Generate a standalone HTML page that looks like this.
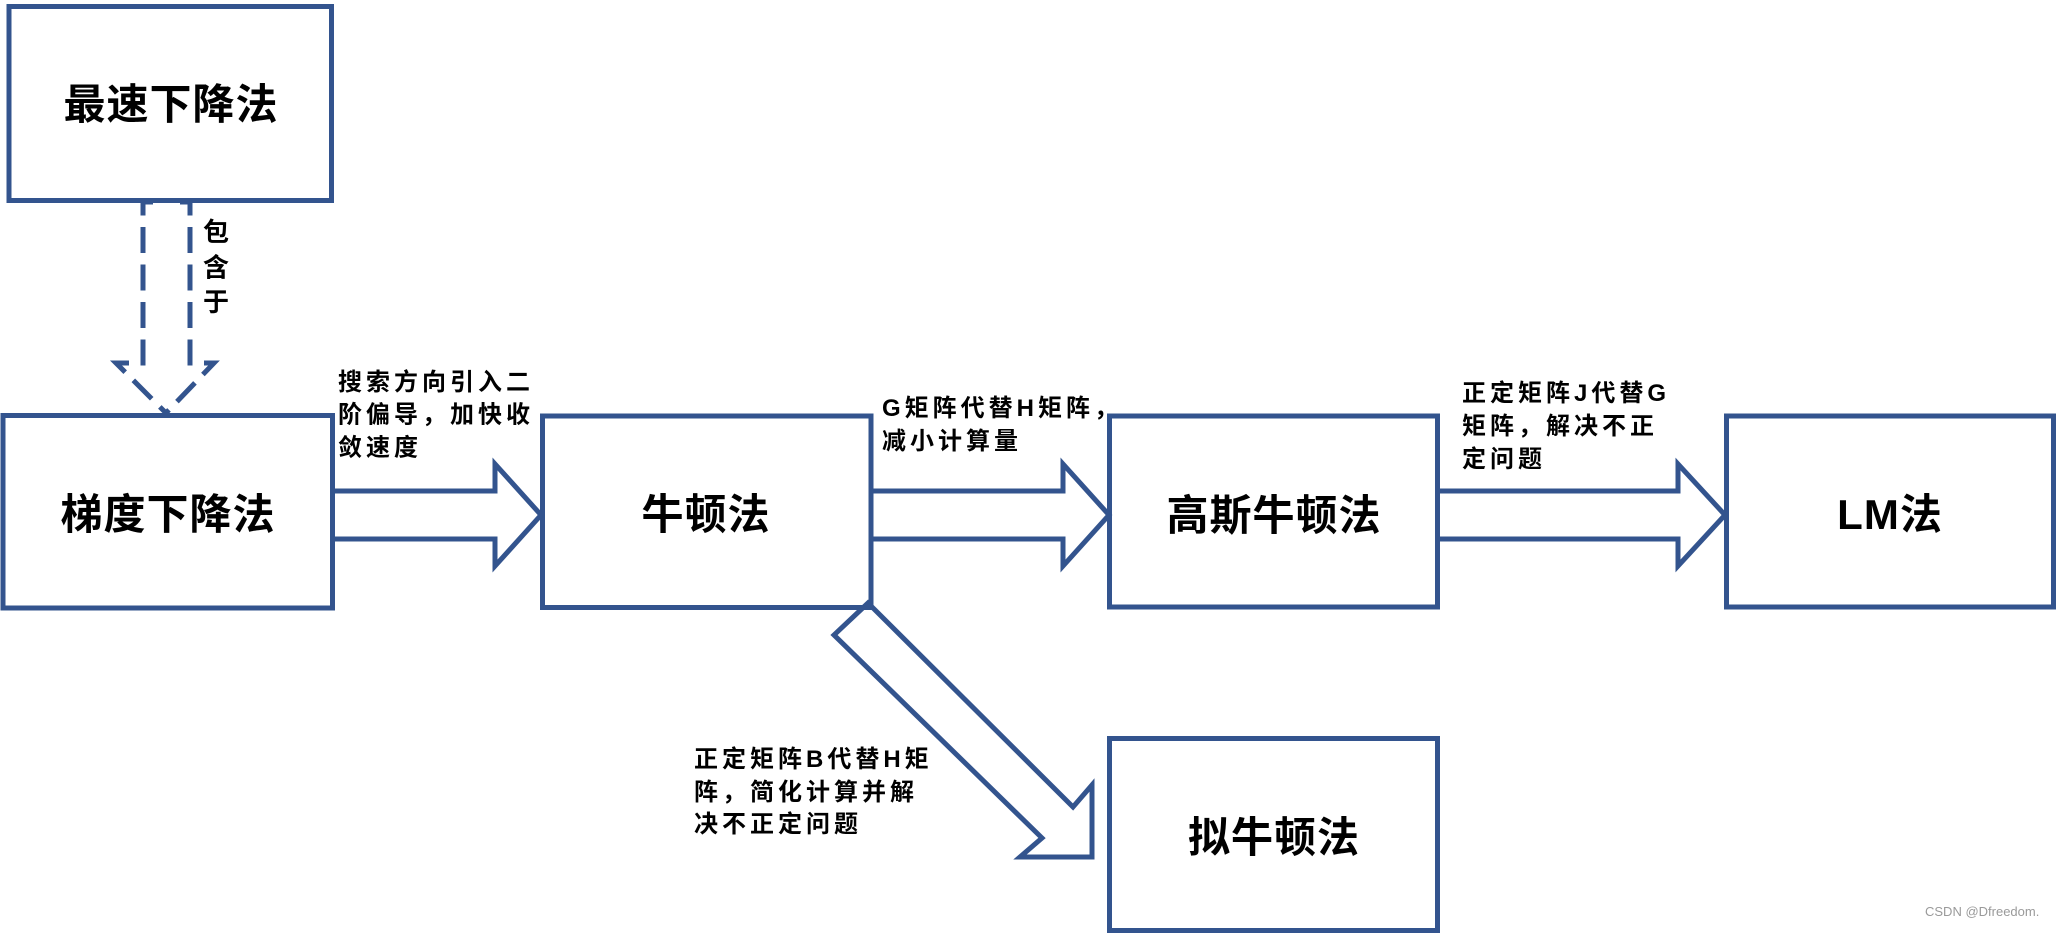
<!DOCTYPE html>
<html>
<head>
<meta charset="utf-8">
<style>
  html, body { margin:0; padding:0; background:#ffffff; }
  body { width:2062px; height:942px; overflow:hidden; }
  svg { display:block; }
  .box { fill:none; stroke:#33548e; stroke-width:5; }
  .arr { fill:none; stroke:#33548e; stroke-width:5; stroke-linejoin:miter; }
  .lbl { font-family:"Liberation Sans","Noto Sans CJK SC",sans-serif; font-weight:bold; font-size:42px; fill:#000; letter-spacing:1px; }
  .sm { font-family:"Liberation Sans","Noto Sans CJK SC",sans-serif; font-weight:bold; font-size:24px; fill:#000; letter-spacing:4px; }
  .vt { font-family:"Liberation Sans","Noto Sans CJK SC",sans-serif; font-weight:bold; font-size:26px; fill:#000; }
  .wm { font-family:"Liberation Sans",sans-serif; font-size:13px; fill:#9a9a9a; }
</style>
</head>
<body>
<svg width="2062" height="942" viewBox="0 0 2062 942" xmlns="http://www.w3.org/2000/svg">
  <rect x="0" y="0" width="2062" height="942" fill="#ffffff"/>

  <!-- boxes -->
  <rect class="box" x="9" y="6.5" width="322.5" height="194"/>
  <rect class="box" x="3" y="415.5" width="329.5" height="192.5"/>
  <rect class="box" x="542.5" y="416" width="328.5" height="191.5"/>
  <rect class="box" x="1109.5" y="416" width="328" height="191"/>
  <rect class="box" x="1726.5" y="416" width="327" height="191"/>
  <rect class="box" x="1109.5" y="738.5" width="328" height="192"/>

  <!-- dashed arrow -->
  <path class="arr" d="M143,201 V363 H116 L166,413" stroke-dasharray="26 11.5" stroke-dashoffset="11.5"/>
  <path class="arr" d="M190,201 V363 H214 L166,413" stroke-dasharray="26 11.5" stroke-dashoffset="11.5"/>
  <path class="arr" d="M143,202 H153 M180,202 H190"/>

  <!-- block arrows -->
  <path class="arr" d="M332.5,491 H495 V464 L541,515 L495,566 V539 H332.5"/>
  <path class="arr" d="M871,491 H1063 V464 L1109,515 L1063,566 V539 H871"/>
  <path class="arr" d="M1437.5,491 H1678 V464 L1725,515 L1678,566 V539 H1437.5"/>

  <!-- diagonal arrow -->
  <path class="arr" d="M868,603 L1073,807 L1092,785 L1092,857 L1020,857 L1042,838 L834,635 Z"/>

  <!-- box labels -->
  <text class="lbl" x="171" y="119" text-anchor="middle">最速下降法</text>
  <text class="lbl" x="168" y="529" text-anchor="middle">梯度下降法</text>
  <text class="lbl" x="706" y="529" text-anchor="middle">牛顿法</text>
  <text class="lbl" x="1274" y="530" text-anchor="middle">高斯牛顿法</text>
  <text class="lbl" x="1890" y="529" text-anchor="middle">LM法</text>
  <text class="lbl" x="1274" y="852" text-anchor="middle">拟牛顿法</text>

  <!-- vertical label -->
  <text class="vt" x="203" y="241">包</text>
  <text class="vt" x="203" y="276.5">含</text>
  <text class="vt" x="203" y="311">于</text>

  <!-- connector labels -->
  <text class="sm" x="338" y="390">搜索方向引入二</text>
  <text class="sm" x="338" y="422.5">阶偏导，加快收</text>
  <text class="sm" x="338" y="455.5">敛速度</text>

  <text class="sm" x="882" y="416">G矩阵代替H矩阵，</text>
  <text class="sm" x="882" y="449">减小计算量</text>

  <text class="sm" x="1462" y="401">正定矩阵J代替G</text>
  <text class="sm" x="1462" y="434">矩阵，解决不正</text>
  <text class="sm" x="1462" y="467">定问题</text>

  <text class="sm" x="694" y="767">正定矩阵B代替H矩</text>
  <text class="sm" x="694" y="800">阵，简化计算并解</text>
  <text class="sm" x="694" y="832">决不正定问题</text>

  <!-- watermark -->
  <text class="wm" x="1925" y="916">CSDN @Dfreedom.</text>
</svg>
</body>
</html>
